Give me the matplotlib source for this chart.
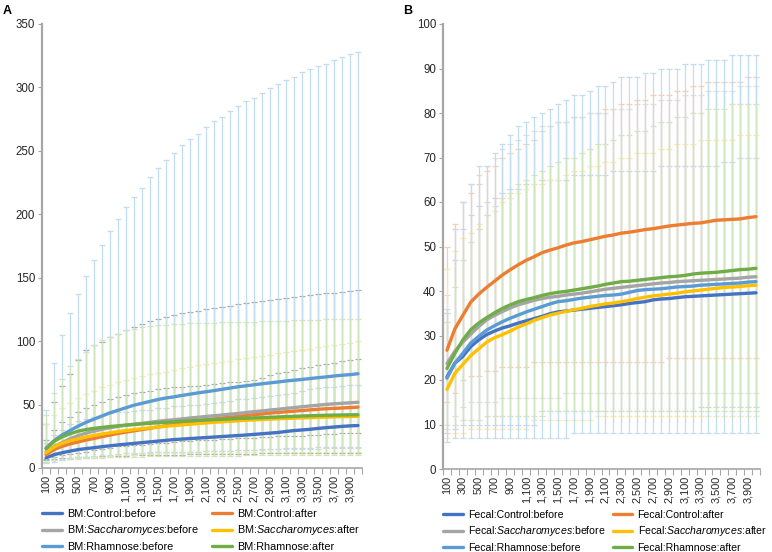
import numpy as np
import matplotlib.pyplot as plt

plt.rcParams['font.family'] = ['Liberation Sans', 'DejaVu Sans']
plt.rcParams['mathtext.fontset'] = 'custom'
plt.rcParams['mathtext.rm'] = 'Liberation Sans'
plt.rcParams['mathtext.it'] = 'Liberation Sans:italic'

# sequencing depth categories
depth = list(range(100, 4001, 100))

# ---- panel A: BM ----
bm_ctrl_before = [8, 10.5, 12, 13.3, 14.5, 15.3, 16, 16.8, 17.5, 18.2, 18.8, 19.4, 20, 20.6, 21.2, 21.8, 22.4, 22.8, 23.2, 23.6,
                  24, 24.4, 24.8, 25.2, 25.6, 26, 26.5, 27, 27.5, 28, 28.8, 29.5, 30, 30.5, 31.2, 31.8, 32.3, 32.8, 33.2, 33.5]
bm_ctrl_after = [10.5, 14.5, 17, 19, 20.5, 22, 23.3, 24.7, 26, 27.2, 28.3, 29.3, 30.3, 31.3, 32.3, 33.3, 34.5, 35.3, 36.2, 37.2,
                 38, 38.7, 39.4, 40, 40.7, 41.3, 42, 42.6, 43.3, 43.8, 44.3, 44.8, 45.3, 45.8, 46.3, 46.7, 47, 47.3, 47.6, 48]
bm_sacc_before = [13, 17, 20, 23, 25.5, 27.5, 29, 30.5, 31.7, 32.8, 33.8, 34.5, 35.2, 36, 36.8, 37.5, 38, 38.7, 39.4, 40,
                  40.6, 41.2, 41.8, 42.4, 43, 43.7, 44.4, 45, 45.7, 46.3, 47, 47.6, 48.3, 48.9, 49.5, 50.1, 50.6, 51, 51.4, 51.8]
bm_sacc_after = [12, 16.5, 19.5, 21.5, 23, 24.5, 25.7, 26.8, 27.8, 28.7, 29.5, 30.3, 31, 31.7, 32.3, 32.9, 33.5, 34, 34.5, 35,
                 35.5, 36, 36.4, 36.8, 37.2, 37.6, 37.9, 38.2, 38.5, 38.8, 39.1, 39.3, 39.5, 39.7, 39.9, 40.1, 40.3, 40.5, 40.6, 40.7]
bm_rham_before = [15.5, 21.5, 26, 29.5, 33, 36, 38.5, 41, 43.5, 45.5, 47.5, 49.5, 51, 52.5, 54, 55.2, 56.1, 57.2, 58.2, 59.2,
                  60.1, 61, 62, 63, 64, 64.8, 65.6, 66.4, 67.1, 67.8, 68.6, 69.2, 69.8, 70.5, 71.2, 71.8, 72.5, 73.1, 73.6, 74.3]
bm_rham_after = [15.5, 21, 24.5, 27, 29, 30.3, 31.2, 32, 32.7, 33.3, 33.8, 34.3, 34.8, 35.2, 35.6, 36, 36.4, 36.8, 37.2, 37.5,
                 37.8, 38.1, 38.4, 38.7, 39, 39.2, 39.5, 39.7, 40, 40.2, 40.5, 40.7, 41, 41.2, 41.4, 41.6, 41.7, 41.8, 41.9, 42]

bm_ctrl_before_hi = [20, 26, 30, 35, 37, 39, 40.5, 42, 43, 44, 44.5, 45, 45.5, 46, 47, 47.5, 48.5, 49, 49.5, 50,
                     50.5, 51, 52, 53, 54, 54.5, 55, 56, 56.5, 57.5, 58.5, 59.5, 61, 62, 62.7, 63.5, 64, 64.8, 65.2, 65.5]
bm_ctrl_before_lo = [4, 5, 6, 7, 7.5, 8, 8.5, 9, 9.5, 10, 10.5, 11, 11.5, 12, 12.5, 12.8, 13, 13, 13, 13,
                     13.2, 13.4, 13.5, 13.6, 13.8, 14, 14.3, 14.6, 15, 15.2, 15.4, 15.6, 15.8, 16, 16.2, 16.4, 16.5, 16.6, 16.7, 16.8]
bm_ctrl_after_hi = [22, 30, 36, 40, 44, 47, 50, 52, 54, 56, 57.5, 59, 60, 61, 62, 62.8, 63.5, 64, 64.5, 65,
                    65.5, 66, 67, 67.5, 68, 68.5, 69.3, 71, 73, 75, 76, 77, 78.5, 80, 81, 82, 83, 84, 85, 86]
bm_ctrl_after_lo = [7, 9, 10, 11, 12, 13, 14, 15, 16, 17, 17.5, 18, 18.5, 19, 19.5, 20, 20.5, 21, 21.5, 22,
                    22, 22.3, 22.6, 23, 23.3, 23.6, 24, 24.3, 24.6, 25, 25, 25.3, 25.6, 26, 26.3, 26.6, 27, 27.2, 27.4, 27.6]
bm_sacc_before_hi = [35, 52, 65, 74, 85, 93, 97, 99.5, 103, 106, 109, 111.5, 113.5, 116, 117.5, 119, 120.5, 122, 123, 124,
                     125, 126, 127, 128, 129, 130, 131, 132, 132.8, 133.5, 134.2, 135, 135.7, 136.3, 137, 137.7, 138.3, 138.8, 139.4, 140]
bm_sacc_before_lo = [6, 7, 7.5, 8, 8.3, 8.6, 9, 9.2, 9.4, 9.6, 9.8, 10, 10, 10.2, 10.3, 10.4, 10.5, 10.6, 10.7, 10.8,
                     10.9, 11, 11, 11.1, 11.2, 11.3, 11.4, 11.5, 11.5, 11.6, 11.7, 11.8, 11.8, 11.9, 12, 12, 12, 12, 12, 12]
bm_sacc_after_hi = [35, 42, 47, 51, 55, 58, 61, 63.5, 65.5, 67.5, 69.5, 71, 72.5, 74, 75, 76, 77.3, 78.5, 79.8, 80.8,
                    81.8, 82.8, 83.8, 84.7, 85.6, 86.5, 87.4, 88.4, 89.3, 90.3, 91.2, 92.2, 93.1, 94, 95, 95.9, 96.8, 97.7, 98.8, 99.8]
bm_sacc_after_lo = [5, 6, 6.5, 7, 7.5, 8, 8.5, 9, 9.5, 10, 10.3, 10.6, 11, 11.2, 11.4, 11.6, 11.8, 12, 12, 12,
                    12, 12, 12.1, 12.2, 12.3, 12.4, 12.5, 12.5, 12.6, 12.6, 12.7, 12.7, 12.8, 12.8, 12.8, 12.8, 12.8, 12.8, 12.8, 12.8]
bm_rham_before_hi = [46, 83, 105, 122, 137.5, 151, 164, 176, 187, 196, 206, 213.6, 220.7, 229.4, 236.4, 242.5, 248, 254.5, 259.3, 263,
                     268.5, 273.5, 276.6, 281.4, 285, 289.3, 292, 295.8, 299.8, 302.7, 305.8, 308.3, 311.8, 314.5, 317, 318.7, 321.6, 324, 326.5, 328.3]
bm_rham_before_lo = [5, 6, 7, 8, 8.5, 9, 9.5, 10, 10.5, 11, 11.5, 12, 12, 12.3, 12.5, 12.7, 12.9, 13, 13, 13,
                     13.2, 13.4, 13.5, 13.6, 13.8, 14, 14.2, 14.4, 14.6, 14.8, 15, 15, 15.1, 15.2, 15.3, 15.4, 15.5, 15.6, 15.7, 15.8]
bm_rham_after_hi = [42, 59, 70.5, 80.5, 86, 91.5, 97, 100.8, 103.4, 106, 108.5, 109.8, 111, 112, 112.6, 113, 113.4, 113.7, 114, 114.2,
                    114.4, 114.5, 114.7, 114.9, 115, 115.2, 115.4, 115.6, 115.8, 116, 116.2, 116.4, 116.6, 116.8, 117, 117.1, 117.2, 117.3, 117.4, 117.5]
bm_rham_after_lo = [5, 6, 6.5, 7, 7.3, 7.6, 8, 8.2, 8.4, 8.6, 8.8, 9, 9, 9.1, 9.2, 9.3, 9.4, 9.5, 9.5, 9.6,
                    9.6, 9.7, 9.7, 9.8, 9.8, 9.9, 9.9, 10, 10, 10, 10, 10, 10, 10, 10, 10, 10, 10, 10, 10]

# ---- panel B: Fecal ----
fe_ctrl_before = [20.7, 23.8, 25.3, 27.5, 29, 30.2, 31, 31.7, 32.2, 32.8, 33.3, 33.8, 34.3, 34.9, 35.3, 35.5, 35.7, 35.9, 36.1, 36.3,
                  36.5, 36.7, 36.9, 37.2, 37.4, 37.6, 38, 38.2, 38.3, 38.5, 38.7, 38.8, 38.9, 39, 39.1, 39.2, 39.3, 39.4, 39.5, 39.6]
fe_ctrl_after = [26.7, 31.5, 34.5, 37.5, 39.3, 40.8, 42.2, 43.6, 44.8, 45.9, 46.9, 47.7, 48.6, 49.2, 49.7, 50.3, 50.8, 51.1, 51.5, 51.9,
                 52.3, 52.6, 53, 53.2, 53.5, 53.8, 54, 54.3, 54.6, 54.8, 55, 55.2, 55.3, 55.6, 55.9, 56, 56.1, 56.2, 56.5, 56.7]
fe_sacc_before = [23.7, 26.5, 28.5, 30.3, 32, 33.5, 34.5, 35.4, 36.2, 36.9, 37.4, 37.9, 38.3, 38.6, 38.8, 39.1, 39.3, 39.5, 39.8, 40.1,
                  40.4, 40.6, 40.8, 41, 41.2, 41.4, 41.6, 41.8, 41.9, 42.1, 42.2, 42.3, 42.4, 42.5, 42.6, 42.7, 42.8, 42.9, 43.1, 43.2]
fe_sacc_after = [17.9, 21.5, 23.5, 25.5, 27, 28.5, 29.5, 30.2, 31, 31.9, 32.6, 33.4, 34, 34.6, 35, 35.4, 35.8, 36.1, 36.5, 36.8,
                 37.1, 37.3, 37.6, 37.9, 38.3, 38.6, 38.9, 39.1, 39.3, 39.5, 39.8, 40, 40.2, 40.4, 40.6, 40.8, 40.9, 41, 41.2, 41.3]
fe_rham_before = [20.4, 23.8, 26, 28.3, 29.8, 31.2, 32.2, 33.1, 33.9, 34.6, 35.3, 35.9, 36.5, 37.1, 37.6, 37.8, 38.1, 38.4, 38.6, 38.8,
                  39, 39.1, 39.3, 39.7, 40.1, 40.3, 40.4, 40.5, 40.7, 40.9, 41, 41.1, 41.3, 41.4, 41.5, 41.6, 41.7, 41.8, 42, 42.1]
fe_rham_after = [22.6, 26, 29, 31.3, 32.8, 34, 35.1, 36.1, 36.9, 37.6, 38.1, 38.5, 39, 39.4, 39.7, 39.9, 40.2, 40.5, 40.8, 41.1,
                 41.5, 41.8, 42.1, 42.2, 42.4, 42.6, 42.8, 43, 43.2, 43.3, 43.5, 43.8, 44, 44.1, 44.2, 44.4, 44.6, 44.8, 44.9, 45.1]

fe_ctrl_before_hi = [35, 47, 54, 57, 59, 60, 61, 62, 63, 63, 64, 64, 65, 65, 65, 65, 66, 66, 66, 66,
                     66, 67, 67, 67, 67, 67, 67, 68, 68, 68, 68, 68, 68, 68, 68, 69, 69, 70, 70, 70]
fe_ctrl_before_lo = [8, 9, 10, 10, 10, 10, 10, 10, 10, 10, 10, 10, 13, 13, 13, 13, 13, 13, 13, 13,
                     13, 13, 13, 13, 13, 13, 13, 13, 13, 13, 13, 13, 14, 14, 14, 14, 14, 14, 14, 14]
fe_ctrl_after_hi = [50, 55, 60, 62, 64, 67, 68, 70, 71, 72, 73, 74, 76, 77, 78, 78, 79, 79, 80, 80,
                    81, 81, 82, 82, 83, 83, 84, 84, 84, 85, 85, 86, 86, 87, 87, 87, 87, 87, 88, 88]
fe_ctrl_after_lo = [15, 17, 20, 21, 21, 22, 22, 23, 23, 23, 23, 24, 24, 24, 24, 24, 24, 24, 24, 24,
                    24, 24, 24, 24, 24, 24, 24, 24, 25, 25, 25, 25, 25, 25, 25, 25, 25, 25, 25, 25]
fe_sacc_before_hi = [39, 54, 60, 64, 66, 68, 70, 72, 73, 74, 75, 76, 77, 77, 78, 78, 79, 79, 80, 80,
                     80, 81, 81, 81, 82, 82, 82, 83, 83, 83, 84, 84, 84, 85, 85, 85, 85, 86, 86, 86]
fe_sacc_before_lo = [9, 12, 14, 15, 15, 15, 15, 16, 16, 16, 16, 16, 16, 16, 16, 17, 17, 17, 17, 17,
                     17, 17, 17, 17, 17, 17, 17, 17, 17, 17, 17, 17, 17, 17, 17, 17, 17, 17, 17, 17]
fe_sacc_after_hi = [45, 49, 52, 53, 55, 57, 58, 60, 61, 62, 63, 64, 64, 65, 65, 66, 67, 67, 68, 68,
                    69, 69, 70, 70, 71, 71, 71, 72, 72, 73, 73, 73, 74, 74, 74, 74, 74, 75, 75, 75]
fe_sacc_after_lo = [7, 8, 8, 9, 9, 9, 9, 9, 9, 9, 9, 11, 11, 11, 11, 11, 11, 11, 11, 12,
                    12, 12, 12, 12, 12, 12, 12, 12, 12, 12, 12, 12, 12, 12, 12, 12, 12, 12, 12, 12]
fe_rham_before_hi = [36, 54, 60, 64, 68, 68, 71, 73, 75, 77, 78, 79, 80, 81, 82, 83, 84, 84, 85, 86,
                     86, 87, 88, 88, 88, 89, 89, 90, 90, 90, 91, 91, 91, 92, 92, 92, 93, 93, 93, 93]
fe_rham_before_lo = [6, 7, 7, 7, 7, 7, 7, 7, 7, 7, 7, 7, 7, 7, 7, 7, 8, 8, 8, 8,
                     8, 8, 8, 8, 8, 8, 8, 8, 8, 8, 8, 8, 8, 8, 8, 8, 8, 8, 8, 8]
fe_rham_after_hi = [33, 41, 47, 51, 54, 57, 59, 61, 62, 64, 65, 66, 67, 68, 69, 70, 70, 71, 72, 73,
                    73, 74, 75, 75, 76, 76, 77, 78, 78, 79, 79, 80, 80, 81, 81, 81, 82, 82, 82, 82]
fe_rham_after_lo = [10, 10, 11, 11, 11, 12, 12, 12, 12, 12, 12, 12, 12, 13, 13, 13, 13, 13, 13, 13,
                    13, 13, 13, 13, 13, 13, 13, 13, 13, 13, 13, 13, 13, 13, 13, 13, 13, 13, 13, 13]

names = ['Control:before', 'Control:after', r'$\it{Saccharomyces}$:before',
         r'$\it{Saccharomyces}$:after', 'Rhamnose:before', 'Rhamnose:after']
line_colors = ['#4472C4', '#ED7D31', '#A5A5A5', '#FFC000', '#5B9BD5', '#70AD47']
err_colors_a = ['#c6d6ee', '#a9a9a9', '#a9a9a9', '#fbe7a6', '#c4dcf1', '#cfe5c0']
err_colors_b = ['#c6d6ee', '#f8cdb0', '#dedede', '#fbe7a6', '#c4dcf1', '#cfe5c0']

panel_a = [(bm_ctrl_before, bm_ctrl_before_lo, bm_ctrl_before_hi),
           (bm_ctrl_after, bm_ctrl_after_lo, bm_ctrl_after_hi),
           (bm_sacc_before, bm_sacc_before_lo, bm_sacc_before_hi),
           (bm_sacc_after, bm_sacc_after_lo, bm_sacc_after_hi),
           (bm_rham_before, bm_rham_before_lo, bm_rham_before_hi),
           (bm_rham_after, bm_rham_after_lo, bm_rham_after_hi)]
panel_b = [(fe_ctrl_before, fe_ctrl_before_lo, fe_ctrl_before_hi),
           (fe_ctrl_after, fe_ctrl_after_lo, fe_ctrl_after_hi),
           (fe_sacc_before, fe_sacc_before_lo, fe_sacc_before_hi),
           (fe_sacc_after, fe_sacc_after_lo, fe_sacc_after_hi),
           (fe_rham_before, fe_rham_before_lo, fe_rham_before_hi),
           (fe_rham_after, fe_rham_after_lo, fe_rham_after_hi)]

FS = 7.8
AXIS_GREY = '#a6a6a6'


def draw_panel(ax, series, err_colors, prefix, ymax, ystep, colspace, legfs):
    x = np.arange(len(depth))
    handles = []
    for (mean, lo, hi), ec in zip(series, err_colors):
        mean = np.array(mean)
        yerr = [mean - np.array(lo), np.array(hi) - mean]
        ax.errorbar(x, mean, yerr=yerr, fmt='none', ecolor=ec, elinewidth=0.9,
                    capsize=2.4, capthick=0.9, zorder=1)
    for (mean, lo, hi), c, nm in zip(series, line_colors, names):
        h, = ax.plot(x, mean, color=c, lw=2.4, solid_capstyle='round', zorder=3, label=prefix + nm)
        handles.append(h)

    ax.set_xlim(-0.5, len(depth) - 0.5)
    ax.set_ylim(0, ymax)
    ax.set_yticks(np.arange(0, ymax + 1, ystep))
    ax.tick_params(axis='y', labelsize=8.3, length=3, width=0.8, color=AXIS_GREY,
                   labelcolor='#262626', pad=2)
    # tick marks between categories, labels on every other category
    ax.set_xticks(np.arange(-0.5, len(depth), 1))
    ax.set_xticklabels([])
    ax.tick_params(axis='x', which='major', length=4, width=0.8, color=AXIS_GREY)
    ax.set_xticks(x[::2], minor=True)
    ax.set_xticklabels([f'{d:,}' for d in depth[::2]], minor=True, rotation=90,
                       fontsize=FS, color='#262626')
    ax.tick_params(axis='x', which='minor', length=0, pad=5)
    for s in ['top', 'right']:
        ax.spines[s].set_visible(False)
    ax.spines['left'].set_color(AXIS_GREY)
    ax.spines['left'].set_linewidth(1.6)
    ax.spines['bottom'].set_color(AXIS_GREY)
    ax.spines['bottom'].set_linewidth(1.2)

    order = [0, 2, 4, 1, 3, 5]
    ax.legend([handles[i] for i in order], [handles[i].get_label() for i in order],
              loc='upper left', bbox_to_anchor=(0.0, -0.092), ncol=2, frameon=False,
              fontsize=legfs, handlelength=1.85, handletextpad=0.5, labelspacing=0.42,
              columnspacing=colspace, borderpad=0, borderaxespad=0)


fig = plt.figure(figsize=(7.72, 5.52), dpi=100)
ax_a = fig.add_axes([42 / 772, 1 - 468 / 552, 320 / 772, 444 / 552])
ax_b = fig.add_axes([443 / 772, 1 - 469 / 552, 317 / 772, 445 / 552])

draw_panel(ax_a, panel_a, err_colors_a, 'BM:', 350, 50, 1.1, FS)
draw_panel(ax_b, panel_b, err_colors_b, 'Fecal:', 100, 10, 0.7, 7.6)

fig.text(3 / 772, 1 - 14 / 552, 'A', fontsize=9, fontweight='bold')
fig.text(403 / 772, 1 - 14 / 552, 'B', fontsize=9, fontweight='bold')

fig.savefig('out.png', dpi=100)
